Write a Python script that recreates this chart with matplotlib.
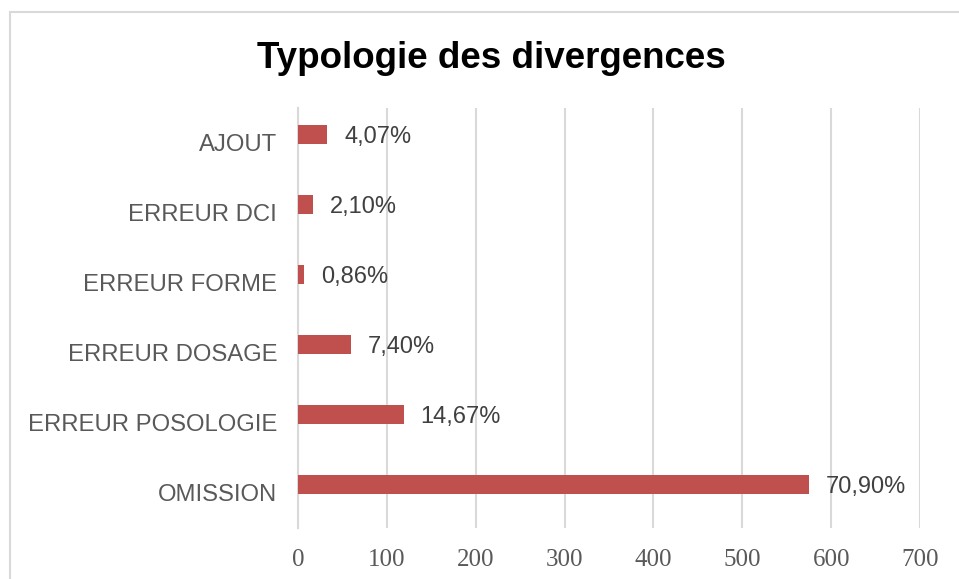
import matplotlib.pyplot as plt
from matplotlib.patches import Rectangle
from matplotlib.transforms import ScaledTranslation

categories = ["OMISSION", "ERREUR POSOLOGIE", "ERREUR DOSAGE",
              "ERREUR FORME", "ERREUR DCI", "AJOUT"]
counts = [575, 119, 60, 7, 17, 33]
labels = ["70,90%", "14,67%", "7,40%", "0,86%", "2,10%", "4,07%"]
x_ticks = [0, 100, 200, 300, 400, 500, 600, 700]

fig = plt.figure(figsize=(9.59, 5.79), dpi=100)
ax = fig.add_axes([298 / 959, 51 / 579, 622 / 959, 420 / 579])

# outer chart frame (cut off at right and bottom like the reference)
fig.patches.append(Rectangle((10 / 959, -0.05), 1.2, 1 - 12 / 579 + 0.05,
                             transform=fig.transFigure, fill=False,
                             edgecolor="#D9D9D9", linewidth=1.5))

y = range(len(categories))
ax.barh(y, counts, height=0.26, color="#C0504D", zorder=3)

for i, (v, lab) in enumerate(zip(counts, labels)):
    ax.text(v + 19, i, lab, va="center_baseline", ha="left",
            fontsize=17, color="#404040", family="Liberation Sans")

ax.set_xlim(0, 700)
ax.set_ylim(-0.621, 5.379)
ax.set_xticks(x_ticks)
ax.set_xticklabels([str(t) for t in x_ticks], family="Liberation Serif",
                   fontsize=18, color="#595959")
ax.set_yticks(list(y))
ax.set_yticklabels(categories, family="Liberation Sans", fontsize=17.2,
                   color="#595959")
ax.tick_params(length=0)
ax.tick_params(axis="x", pad=15)
ax.tick_params(axis="y", pad=15)

# category labels sit a little below the bars in the original
shift = ScaledTranslation(0, -8 / 100, fig.dpi_scale_trans)
for t in ax.get_yticklabels():
    t.set_transform(t.get_transform() + shift)

ax.grid(axis="x", color="#D9D9D9", linewidth=1.5, zorder=0)
for s in ["top", "right", "bottom"]:
    ax.spines[s].set_visible(False)
ax.spines["left"].set_color("#D9D9D9")
ax.spines["left"].set_linewidth(1.5)

fig.text(0.5125, 1 - 68 / 579, "Typologie des divergences", ha="center",
         va="baseline", fontsize=26.5, fontweight="bold",
         family="Liberation Sans", color="black")

fig.savefig("out.png", dpi=100)
